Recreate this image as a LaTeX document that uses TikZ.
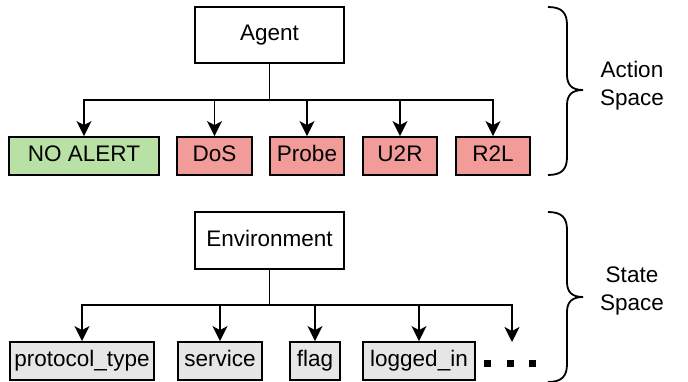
\documentclass[tikz,border=0pt]{standalone}
\usepackage{fontspec}
\setmainfont{Liberation Sans}
\usepackage{xcolor}
\usetikzlibrary{arrows.meta}
\definecolor{okgreen}{HTML}{B9E0A5}
\definecolor{alertred}{HTML}{F19C99}
\definecolor{featgray}{HTML}{E6E6E6}

\begin{document}
\begin{tikzpicture}[x=1pt,y=-1pt,line width=1.8pt,
      font=\fontsize{22.5}{28}\selectfont,
      box/.style={draw,rectangle,inner sep=0pt,minimum height=38pt,
        text height=16pt,text depth=4.6pt},
      topbox/.style={box,minimum width=149pt,minimum height=56pt},
      okbox/.style={box,fill=okgreen},
      alertbox/.style={box,fill=alertred,minimum width=74pt},
      featbox/.style={box,fill=featgray},
      arr/.style={-{Stealth[length=15pt,width=15pt,inset=4pt]}}]
      \useasboundingbox (0,0) rectangle (688,381);
      \node[topbox] (agent) at (269.5,35) {Agent};
      \coordinate (actfork) at (269.5,100);
      \node[okbox,minimum width=150pt] (noalert) at (84,156) {NO ALERT};
      \node[alertbox,minimum width=75pt] (dos) at (214.5,156) {DoS};
      \node[alertbox] (probe) at (307,156) {Probe};
      \node[alertbox] (u2r) at (400,156) {U2R};
      \node[alertbox] (r2l) at (493,156) {R2L};
      \draw (agent) -- (actfork);
      \foreach \n in {noalert,dos,probe,u2r,r2l}
        \draw[arr] (actfork) -| (\n);
      \node[topbox,minimum height=57pt] (env) at (269.5,240.5) {Environment};
      \coordinate (stfork) at (269.5,305);
      \node[featbox,minimum width=144pt] (proto) at (82,361) {protocol\_type};
      \node[featbox,minimum width=84pt] (service) at (220,361) {service};
      \node[featbox,minimum width=50pt] (flag) at (315,361) {flag};
      \node[featbox,minimum width=112pt] (logged) at (419,361) {logged\_in};
      \coordinate (more) at (512,342);
      \draw (env) -- (stfork);
      \foreach \n in {proto,service,flag,logged,more}
        \draw[arr] (stfork) -| (\n);
      \foreach \x in {487,510,532}
        \fill ({\x-3.5},359.5) rectangle ++(7,7);
      \foreach \t/\m in {7/90,212/297}
        \draw (548,\t) .. controls (562,\t) and (567,{\t+6}) .. (567,{\t+18})
          -- (567,{\m-15}) .. controls (567,{\m-5}) and (572,\m) .. (583,\m)
          .. controls (572,\m) and (567,{\m+5}) .. (567,{\m+15})
          -- (567,{\m+67}) .. controls (567,{\m+79}) and (562,{\m+85}) .. (548,{\m+85});
      \node[align=center] (actlabel) at (632,86) {Action\\Space};
      \node[align=center] (statelabel) at (632,291) {State\\Space};
    \end{tikzpicture}
\end{document}
